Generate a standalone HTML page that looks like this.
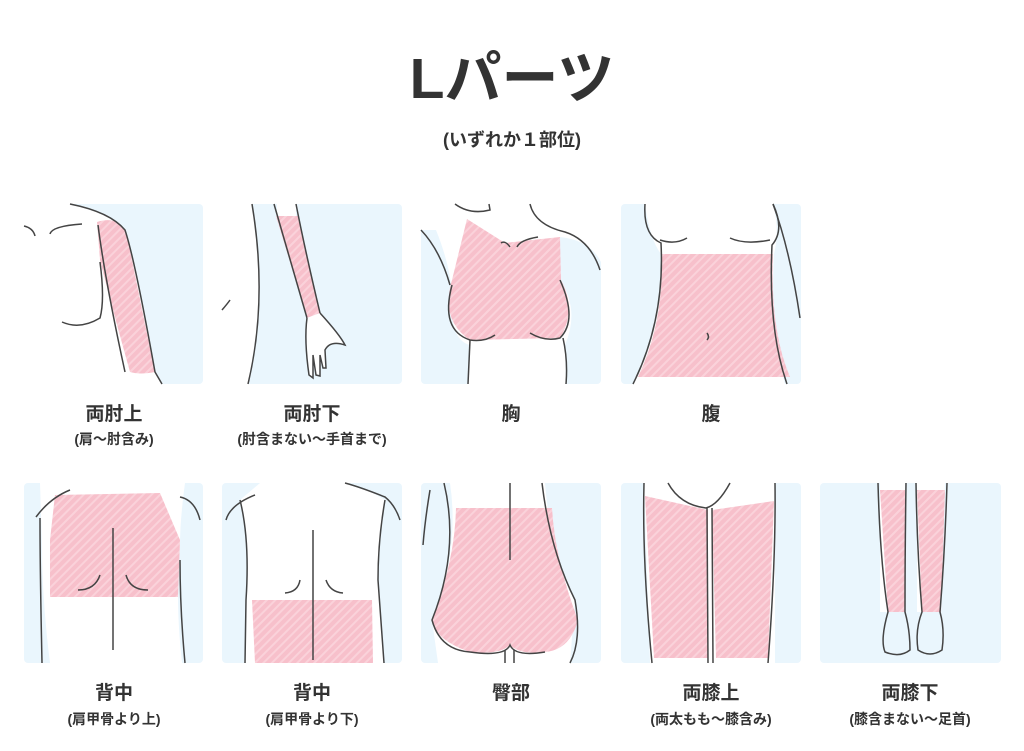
<!DOCTYPE html>
<html><head><meta charset="utf-8"><style>
html,body{margin:0;padding:0;background:#fff;}
body{width:1024px;height:751px;position:relative;overflow:hidden;font-family:"Liberation Sans","Noto Sans CJK JP",sans-serif;color:#333;}
.t{position:absolute;left:0;width:1024px;text-align:center;font-weight:bold;}
.l{position:absolute;text-align:center;font-weight:bold;color:#333;width:200px;}
.m{font-size:19px;}
.s{font-size:14px;}
</style></head><body>
<div class="t" style="top:44px;font-size:57px;line-height:70px;">Lパーツ</div>
<div class="t" style="top:126px;font-size:18px;">(いずれか１部位)</div>
<svg width="1024" height="751" style="position:absolute;left:0;top:0">
<defs>
<pattern id="p" width="6" height="6" patternUnits="userSpaceOnUse" patternTransform="rotate(45)">
<rect width="6" height="6" fill="#f7c0cb"/><rect width="2" height="6" fill="#fad2da"/>
</pattern>
</defs>
<g fill="#eaf6fd">
<rect x="24" y="204" width="179" height="180" rx="4"/>
<rect x="222" y="204" width="180" height="180" rx="4"/>
<rect x="421" y="204" width="180" height="180" rx="4"/>
<rect x="621" y="204" width="180" height="180" rx="4"/>
<rect x="24" y="483" width="179" height="180" rx="4"/>
<rect x="222" y="483" width="180" height="180" rx="4"/>
<rect x="421" y="483" width="180" height="180" rx="4"/>
<rect x="621" y="483" width="180" height="180" rx="4"/>
<rect x="820" y="483" width="181" height="180" rx="4"/>
</g>
<g stroke="#444" stroke-width="1.5" fill="none">
<!-- p1 -->
<path d="M24,204 L70,204 Q110,212 125,230 Q135,260 155,372 L162,384 L24,384 Z" fill="#fff" stroke="none"/>
<path d="M97,222 Q120,215 127,235 Q140,300 155,372 Q140,375 130,372 Q110,300 100,260 Z" fill="url(#p)" stroke="none"/>
<path d="M70,204 Q110,212 125,230 Q135,260 155,372 L162,384"/>
<path d="M98,225 Q105,280 125,372"/>
<path d="M100,262 Q105,300 100,318 Q80,330 62,322"/>
<path d="M24,226 Q33,228 35,236"/><path d="M50,234 Q52,226 82,224"/>
<!-- p2 -->
<path d="M222,204 L252,204 Q268,300 248,384 L222,384 Z" fill="#fff" stroke="none"/>
<path d="M252,204 Q268,300 248,384"/><path d="M222,310 Q228,303 230,300"/>
<rect x="277" y="204" width="19" height="12" fill="#fff" stroke="none"/>
<path d="M276,216 L298,216 L320,313 L307,318 Z" fill="url(#p)" stroke="none"/>
<path d="M274,204 L307,318"/><path d="M296,204 Q305,250 320,313"/>
<path d="M307,318 Q304,340 309,375 L313,378 L313,355 L316,375 L320,376 L320,355 L323,368 L326,368 L325,350 Q330,340 345,345 Q340,335 320,313" fill="#fff"/>
<!-- p3 -->
<path d="M436,230 Q452,270 452,300 Q450,340 470,345 L468,384 L566,384 L565,345 Q580,310 560,280 L560,237 Q590,240 601,262 L601,204 L421,204 L421,230 Z" fill="#fff" stroke="none"/>
<path d="M467,219 L505,243 L560,237 L561,280 Q577,310 560,338 L470,340 Q440,320 452,280 Z" fill="url(#p)" stroke="none"/>
<path d="M421,230 Q440,250 450,285"/><path d="M455,204 Q470,215 490,210 L489,204"/>
<path d="M530,204 Q535,225 565,232 Q590,240 600,270"/>
<path d="M452,285 Q440,330 470,340 Q485,342 495,335"/><path d="M560,280 Q578,320 560,338 Q545,342 530,333"/>
<path d="M470,340 L468,384"/><path d="M563,338 Q568,360 566,384"/>
<path d="M501,243 Q505,240 510,247 M517,247 Q520,240 538,237"/>
<!-- p4 -->
<path d="M645,204 Q650,240 661,254 Q665,320 633,384 L785,384 Q770,330 774,254 Q780,230 773,204 Z" fill="#fff" stroke="none"/>
<path d="M661,254 L773,254 Q770,330 790,377 L638,377 Q665,320 661,254 Z" fill="url(#p)" stroke="none"/>
<path d="M645,204 Q643,235 661,243 Q665,320 633,384"/><path d="M773,204 Q785,230 772,245 Q768,330 787,384"/>
<path d="M660,240 Q675,245 687,238"/><path d="M730,238 Q745,245 770,240"/>
<path d="M773,204 Q790,250 800,318"/><path d="M707,333 Q710,337 707,340"/>
<!-- r2p1 -->
<path d="M40,483 L185,483 Q180,520 180,545 Q175,600 182,663 L50,663 Q42,600 42,545 Z" fill="#fff" stroke="none"/>
<path d="M55,495 L160,493 L180,540 L178,597 L50,597 L50,540 Z" fill="url(#p)" stroke="none"/>
<path d="M40,518 Q40,570 42,663"/><path d="M180,497 Q195,500 200,520"/><path d="M180,560 Q180,610 185,663"/>
<path d="M113,528 L113,650"/><path d="M100,575 Q95,590 78,590"/><path d="M126,575 Q130,590 148,590"/>
<path d="M36,517 Q50,498 70,490"/>
<!-- r2p2 -->
<path d="M240,500 Q250,540 246,600 L245,663 L384,663 Q378,600 378,560 Q380,520 385,500 Q360,485 345,483 L260,483 Z" fill="#fff" stroke="none"/>
<path d="M252,600 L372,600 L373,663 L255,663 Z" fill="url(#p)" stroke="none"/>
<path d="M240,500 Q250,540 246,600 L245,663"/><path d="M385,500 Q378,540 378,580 L384,663"/>
<path d="M226,520 Q230,505 255,495"/><path d="M345,483 Q360,487 385,497 Q395,505 400,520"/>
<path d="M313,530 L313,660"/><path d="M300,580 Q298,592 285,593"/><path d="M326,580 Q330,592 343,593"/>
<!-- r2p3 -->
<path d="M445,483 L545,483 Q550,550 575,600 L570,663 L438,663 L432,620 Q460,550 450,483 Z" fill="#fff" stroke="none"/>
<path d="M456,508 L552,508 Q555,560 578,620 Q570,650 545,652 Q520,655 510,645 Q500,655 470,652 Q435,640 432,620 Q455,560 456,508 Z" fill="url(#p)" stroke="none"/>
<path d="M444,483 Q460,550 432,620 Q440,650 470,652"/><path d="M542,483 Q550,550 575,600 Q582,640 570,663"/>
<path d="M510,483 L510,560"/><path d="M470,652 Q505,657 510,645 Q515,657 545,652"/>
<path d="M505,650 L505,663 M514,650 L514,663"/><path d="M430,490 Q425,520 423,545"/>
<!-- r2p4 -->
<path d="M644,483 L775,483 L775,663 L650,663 Z" fill="#fff" stroke="none"/>
<path d="M645,496 L708,510 L708,658 L654,658 Z M712,510 L774,501 L768,658 L716,658 Z" fill="url(#p)" stroke="none"/>
<path d="M644,483 Q642,560 652,663"/><path d="M775,483 Q776,560 768,663"/>
<path d="M668,483 Q680,505 706,508 Q718,505 730,483"/>
<path d="M707,508 L708,663 M712,508 L713,663"/>
<!-- r2p5 -->
<path d="M880,483 L905,483 L905,612 L880,612 Z M917,483 L945,483 L940,612 L917,612 Z" fill="#fff" stroke="none"/>
<path d="M880,490 L905,490 L905,612 L888,612 Z M917,490 L945,490 L941,612 L922,612 Z" fill="url(#p)" stroke="none"/>
<path d="M878,483 Q880,560 888,612 Q880,640 885,652 Q900,658 910,650 Q910,630 905,612 Q905,550 906,483"/>
<path d="M916,483 Q917,550 922,612 Q915,630 918,650 Q930,658 942,650 Q945,630 940,612 Q945,550 947,483"/>
</g>
</svg>
<div class="l m" style="left:14px;top:399px">両肘上</div>
<div class="l s" style="left:14px;top:429px">(肩〜肘含み)</div>
<div class="l m" style="left:212px;top:399px">両肘下</div>
<div class="l s" style="left:212px;top:429px">(肘含まない〜手首まで)</div>
<div class="l m" style="left:411px;top:399px">胸</div>
<div class="l m" style="left:611px;top:399px">腹</div>
<div class="l m" style="left:14px;top:678px">背中</div>
<div class="l s" style="left:14px;top:709px">(肩甲骨より上)</div>
<div class="l m" style="left:212px;top:678px">背中</div>
<div class="l s" style="left:212px;top:709px">(肩甲骨より下)</div>
<div class="l m" style="left:411px;top:678px">臀部</div>
<div class="l m" style="left:611px;top:678px">両膝上</div>
<div class="l s" style="left:611px;top:709px">(両太もも〜膝含み)</div>
<div class="l m" style="left:810px;top:678px">両膝下</div>
<div class="l s" style="left:810px;top:709px">(膝含まない〜足首)</div>
</body></html>
